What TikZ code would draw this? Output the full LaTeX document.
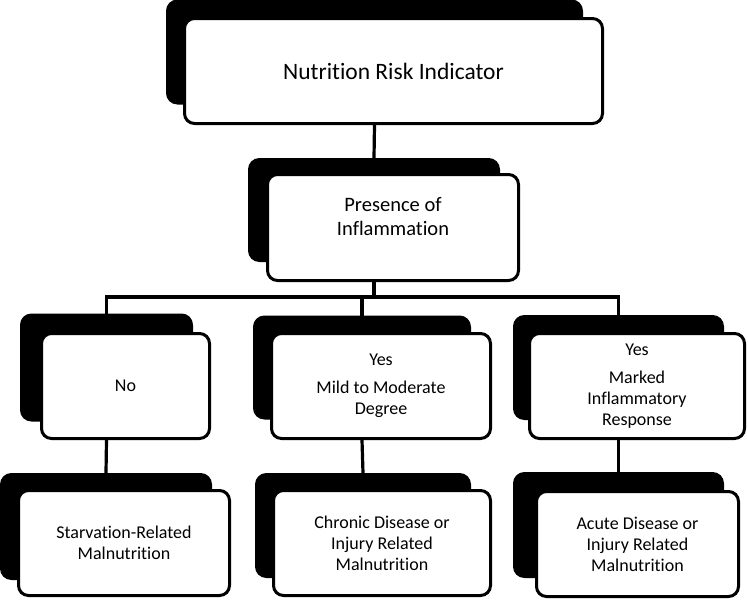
\documentclass[tikz,border=0pt]{standalone}
\usepackage{fontspec}
\setmainfont{Carlito}[Ligatures=NoCommon]
\usetikzlibrary{calc}

\begin{document}
\begin{tikzpicture}[x=1pt, y=-1pt,
  backbox/.style={draw, fill=black, rounded corners=10pt, line width=3pt, inner sep=0pt},
  frontbox/.style={draw, fill=white, rounded corners=10pt, line width=3pt, align=center, inner sep=2pt, font=\fontsize{18}{21}\selectfont},
  link/.style={line width=3.2pt, black}]
\useasboundingbox (0, 0) rectangle (748, 600);

% top level
\node [backbox, minimum width=414pt, minimum height=102pt] (riskS) at (374.5, 52) {};
\node [frontbox, minimum width=418pt, minimum height=105pt, font=\fontsize{23.5}{27}\selectfont] (risk) at (393.5, 71) {Nutrition Risk Indicator};

\node [backbox, minimum width=249pt, minimum height=101pt] (inflamS) at (374, 210) {};
\node [frontbox, minimum width=251pt, minimum height=106pt, text depth=22pt, font=\fontsize{20.5}{24}\selectfont] (inflam) at (393, 227.5) {Presence of\\Inflammation};

% second level
\node [backbox, minimum width=170pt, minimum height=105pt] (noS) at (106.5, 367.5) {};
\node [frontbox, minimum width=168pt, minimum height=105pt] (no) at (125.5, 386) {No};

\node [backbox, minimum width=215pt, minimum height=101pt] (mildS) at (362, 367.5) {};
\node [frontbox, minimum width=219pt, minimum height=105pt] (mild) at (381, 386) {Yes\\[7pt]Mild to Moderate\\Degree};

\node [backbox, minimum width=208pt, minimum height=102pt] (markedS) at (618.5, 367.5) {};
\node [frontbox, minimum width=215pt, minimum height=105pt] (marked) at (637, 386) {Yes\\[7pt]Marked\\Inflammatory\\Response};

% third level
\node [backbox, minimum width=209pt, minimum height=104pt] (starvS) at (106, 526.5) {};
\node [frontbox, minimum width=211pt, minimum height=105pt] (starv) at (124, 543) {Starvation-Related\\Malnutrition};

\node [backbox, minimum width=213pt, minimum height=102pt] (chronicS) at (363, 525.5) {};
\node [frontbox, minimum width=217pt, minimum height=105pt] (chronic) at (382, 543) {Chronic Disease or\\Injury Related\\Malnutrition};

\node [backbox, minimum width=208pt, minimum height=103pt] (acuteS) at (618.5, 525) {};
\node [frontbox, minimum width=202pt, minimum height=105pt] (acute) at (637.5, 544) {Acute Disease or\\Injury Related\\Malnutrition};

% connectors
\coordinate (fork) at ($(inflam.south -| inflamS.south)+(0, 15)$);
\draw [link] (risk.south -| riskS.south) -- (inflamS.north);
\draw [link] (inflam.south -| inflamS.south) -- (fork);
\draw [link] (noS.north) |- (fork) -| (markedS.north);
\draw [link] (mildS.north) -- (mildS.north |- fork);
\draw [link] (no.south -| noS.south) -- (starvS.north);
\draw [link] (mild.south -| mildS.south) -- (chronicS.north);
\draw [link] (marked.south -| markedS.south) -- (acuteS.north);
\end{tikzpicture}
\end{document}
